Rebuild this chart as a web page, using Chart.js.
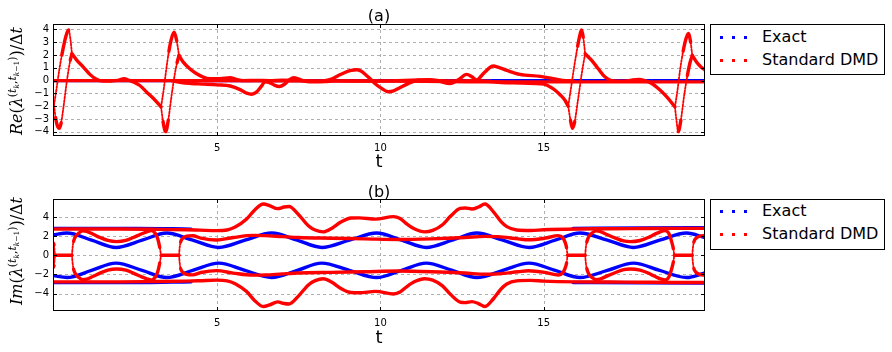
<!DOCTYPE html>
<html><head><meta charset="utf-8">
<script src="https://cdn.jsdelivr.net/npm/chart.js@4.4.1/dist/chart.umd.min.js"></script>
<style>
body{margin:0;background:#fff;}
#wrap{position:relative;width:892px;height:352px;overflow:hidden;font-family:"DejaVu Sans",sans-serif;color:#000}
canvas{position:absolute;left:0}
.lbl{position:absolute;white-space:nowrap;line-height:1;transform:translate(-50%,-50%)}
.ylab{position:absolute;white-space:nowrap;line-height:1;transform:translate(-50%,-50%) rotate(-90deg);font-family:"DejaVu Serif",serif;font-size:16px}
.ylab sup,.ylab sub{font-size:68%;line-height:0}
.leg{position:absolute;left:710px;width:173px;height:49px;border:1px solid #000;background:#fff}
.dot{position:absolute;width:3px;height:3px}
.lt{position:absolute;left:51px;font-size:16px;line-height:1;transform:translateY(-50%);white-space:nowrap}
</style></head>
<body>
<div id="wrap">
<canvas id="ca" width="892" height="176" style="top:0;width:892px;height:176px"></canvas>
<canvas id="cb" width="892" height="176" style="top:175px;width:892px;height:176px"></canvas>
<div class="lbl" style="left:379px;top:16px;font-size:16px">(a)</div>
<div class="lbl" style="left:379px;top:161px;font-size:18px">t</div>
<div class="lbl" style="left:379px;top:192px;font-size:16px">(b)</div>
<div class="lbl" style="left:379px;top:337px;font-size:18px">t</div>
<div class="ylab" style="left:17px;top:81px"><i>Re</i>(<i>λ</i><sup>(<i>t</i><sub><i>k</i></sub>,<i>t</i><sub><i>k</i>−1</sub>)</sup>)/Δ<i>t</i></div>
<div class="ylab" style="left:17px;top:251px"><i>Im</i>(<i>λ</i><sup>(<i>t</i><sub><i>k</i></sub>,<i>t</i><sub><i>k</i>−1</sub>)</sup>)/Δ<i>t</i></div>
<div class="leg" style="top:24px">
  <div class="dot" style="left:9px;top:11px;background:#00f"></div><div class="dot" style="left:21px;top:11px;background:#00f"></div><div class="dot" style="left:33px;top:11px;background:#00f"></div>
  <div class="lt" style="top:12px">Exact</div>
  <div class="dot" style="left:9px;top:34px;background:#f00"></div><div class="dot" style="left:21px;top:34px;background:#f00"></div><div class="dot" style="left:33px;top:34px;background:#f00"></div>
  <div class="lt" style="top:35px">Standard DMD</div>
</div>
<div class="leg" style="top:199px">
  <div class="dot" style="left:9px;top:10px;background:#00f"></div><div class="dot" style="left:21px;top:10px;background:#00f"></div><div class="dot" style="left:33px;top:10px;background:#00f"></div>
  <div class="lt" style="top:11px">Exact</div>
  <div class="dot" style="left:9px;top:33px;background:#f00"></div><div class="dot" style="left:21px;top:33px;background:#f00"></div><div class="dot" style="left:33px;top:33px;background:#f00"></div>
  <div class="lt" style="top:34px">Standard DMD</div>
</div>
</div>
<script>
// ---------- axes / ticks ----------
const xTicks = [5, 10, 15];
const yTicksA = [-4, -3, -2, -1, 0, 1, 2, 3, 4];
const yTicksB = [-4, -2, 0, 2, 4];
const xRange = [-0.03, 19.94];
const yRangeA = [-4.33, 4.43];
const yRangeB = [-5.83, 5.89];

// ---------- panel (a): real parts ----------
const aExact = [[-0.03,0],[5,0],[10,0],[15,0],[19.94,0]];
const aDmdFlat = [[-0.03,0],[4,0],[8,-0.02],[10,-0.04],[12,-0.07],[14,-0.1],[19.94,-0.1]];
const aLoop1Lo = [[0,-1.92],[0.05,-2.9],[0.1,-3.5],[0.16,-3.73],[0.22,-3.3],[0.3,-1.9],[0.38,-0.3],[0.45,0.9],[0.5,1.6],[0.55,2.1]];
const aLoop1Hi = [[0,-1.92],[0.08,-0.6],[0.16,0.8],[0.24,2.0],[0.32,3.0],[0.4,3.75],[0.45,3.97],[0.5,3.3],[0.55,2.1]];
const aRe1 = [[0.55,2.1],[0.69,1.63],[0.9,1.06],[1.1,0.49],[1.3,0.1],[1.5,-0.04],[1.7,-0.03],[1.95,0.02],[2.15,0.15],[2.3,0.02],[2.45,-0.12],[2.63,-0.38],[2.84,-0.9],[3.04,-1.38],[3.28,-2.05]];
const aLoop2Lo = [[3.28,-2.05],[3.34,-3.2],[3.42,-3.99],[3.5,-3.1],[3.6,-1.2],[3.7,0.5],[3.77,1.4],[3.83,1.97]];
const aLoop2Hi = [[3.28,-2.05],[3.36,-0.7],[3.44,0.9],[3.52,2.3],[3.6,3.3],[3.68,3.78],[3.76,3.1],[3.83,1.97]];
const aRe2 = [[3.83,1.97],[3.96,1.45],[4.16,0.93],[4.37,0.54],[4.57,0.28],[4.78,0.15],[5.08,0.15],[5.39,0.23],[5.59,0.1],[5.8,0.0],[6.2,0.02],[6.6,0.0],[7.0,0.03],[7.5,0.0],[8.0,-0.05],[8.3,0.0],[8.5,0.12],[8.7,0.38],[8.91,0.64],[9.1,0.8],[9.27,0.85],[9.4,0.75],[9.52,0.52],[9.7,0.1],[9.83,-0.22],[10.0,-0.55],[10.24,-0.87],[10.4,-0.8],[10.55,-0.61],[10.85,-0.23],[11.16,0.03],[11.5,0.06],[11.8,-0.05],[12.13,-0.23],[12.4,0.1],[12.64,0.49],[12.8,0.3],[12.95,0.05],[13.15,0.55],[13.46,1.14],[13.6,1.05],[13.87,0.8],[14.27,0.49],[14.89,0.33],[15.29,0.15],[15.7,0.0],[15.9,0.0]];
const aRe3 = [[3.6,0.0],[3.9,-0.15],[4.2,-0.22],[4.6,-0.27],[5.0,-0.33],[5.4,-0.42],[5.7,-0.7],[5.9,-0.98],[6.05,-1.06],[6.2,-0.9],[6.35,-0.45],[6.46,-0.1],[6.6,-0.15],[6.75,-0.35],[6.9,-0.46],[7.05,-0.3],[7.2,0.05],[7.35,0.23],[7.5,0.12],[7.7,-0.05],[8.0,-0.1],[8.3,-0.08],[8.6,-0.02],[9.5,-0.03],[10.5,0.0],[11.2,0.05],[11.5,0.08],[11.8,0.0],[12.5,-0.02],[13.0,0.0],[13.3,-0.05],[13.7,-0.15],[14.3,-0.18],[14.89,-0.25],[15.04,-0.3],[15.2,-0.5],[15.35,-0.75],[15.5,-1.1],[15.65,-1.53],[15.75,-2.0]];
const aLoop3Lo = [[15.75,-2.0],[15.82,-3.1],[15.88,-3.73],[15.95,-3.2],[16.05,-1.5],[16.15,0.3],[16.22,1.4],[16.27,2.1]];
const aLoop3Hi = [[15.75,-2.0],[15.84,-0.5],[15.94,1.2],[16.04,2.7],[16.12,3.7],[16.16,3.96],[16.21,3.4],[16.27,2.1]];
const aRe4 = [[16.27,2.1],[16.47,1.58],[16.67,0.93],[16.88,0.28],[17.08,0.0],[17.3,-0.04],[17.6,0.0],[17.9,0.1],[18.1,0.0],[18.31,-0.23],[18.51,-0.62],[18.77,-1.27],[19.02,-2.05]];
const aLoop4Lo = [[19.02,-2.05],[19.07,-3.2],[19.12,-3.99],[19.2,-3.1],[19.3,-1.2],[19.4,0.4],[19.48,1.4],[19.55,1.97]];
const aLoop4Hi = [[19.02,-2.05],[19.1,-0.7],[19.18,0.9],[19.27,2.3],[19.36,3.3],[19.43,3.7],[19.5,3.0],[19.55,1.97]];
const aRe5 = [[19.55,1.97],[19.68,1.45],[19.8,1.1],[19.94,0.83]];

// ---------- panel (b): imaginary parts ----------
const bExactUp = [[-0.03,2.13],[0.4,2.33],[1.15,1.58],[1.9,0.82],[2.7,1.58],[3.45,2.33],[4.25,1.58],[5.05,0.82],[5.85,1.58],[6.67,2.33],[7.45,1.58],[8.2,0.82],[9.05,1.58],[9.88,2.33],[10.65,1.58],[11.4,0.82],[12.2,1.58],[12.95,2.33],[13.75,1.58],[14.55,0.82],[15.35,1.58],[16.11,2.33],[16.95,1.58],[17.75,0.82],[18.55,1.58],[19.38,2.33],[19.94,1.85]];
const bExactLo = [[-0.03,-2.13],[0.4,-2.33],[1.15,-1.58],[1.9,-0.82],[2.7,-1.58],[3.45,-2.33],[4.25,-1.58],[5.05,-0.82],[5.85,-1.58],[6.67,-2.33],[7.45,-1.58],[8.2,-0.82],[9.05,-1.58],[9.88,-2.33],[10.65,-1.58],[11.4,-0.82],[12.2,-1.58],[12.95,-2.33],[13.75,-1.58],[14.55,-0.82],[15.35,-1.58],[16.11,-2.33],[16.95,-1.58],[17.75,-0.82],[18.55,-1.58],[19.38,-2.33],[19.94,-1.85]];
const bExactFlatUp1 = [[-0.03,2.82],[2.5,2.82],[4.2,2.74]];
const bExactFlatLo1 = [[-0.03,-2.86],[2.5,-2.86],[4.2,-2.77]];
const bExactFlatUp2 = [[15.9,2.81],[18,2.86],[19.94,2.88]];
const bExactFlatLo2 = [[15.9,-2.84],[18,-2.88],[19.94,-2.9]];

const bZero1 = [[-0.03,1.3],[0.0,1.1],[0.015,0.6],[0.03,0],[0.55,0]];
const bZero1Lo = [[-0.03,-1.3],[0.0,-1.1],[0.015,-0.6],[0.03,0]];
const bZero2 = [[3.28,0],[3.83,0]];
const bZero3 = [[15.73,0],[16.27,0]];
const bZero4 = [[19.0,0],[19.55,0]];

const bP1UpE1 = [[0.55,0],[0.57,0.8],[0.6,1.45],[0.66,1.95],[0.75,2.3],[0.88,2.55],[1.0,2.5],[1.2,2.2],[1.41,1.86],[1.65,1.55],[1.92,1.43],[2.2,1.55],[2.43,1.86],[2.65,2.2],[2.84,2.46],[2.99,2.6],[3.1,2.3],[3.18,1.7],[3.24,0.81],[3.28,0]];
const bP1LoE1 = [[0.55,0],[0.57,-0.8],[0.6,-1.45],[0.66,-1.95],[0.75,-2.3],[0.88,-2.55],[1.0,-2.5],[1.2,-2.2],[1.41,-1.86],[1.65,-1.55],[1.92,-1.43],[2.2,-1.55],[2.43,-1.86],[2.65,-2.2],[2.84,-2.46],[2.99,-2.6],[3.1,-2.3],[3.18,-1.7],[3.24,-0.81],[3.28,0]];
const bP1UpE2 = [[3.83,0],[3.85,0.8],[3.88,1.4],[3.95,1.8],[4.06,2.0],[4.25,2.05],[4.5,1.8],[4.98,1.6],[5.49,1.86],[6.1,2.08],[6.46,2.06],[7.0,1.95],[7.48,1.86],[8.5,1.79],[9.53,1.72],[10.55,1.65],[11.57,1.72],[12.59,1.86],[13.2,1.98],[13.6,1.95],[14.22,1.72],[14.53,1.62],[15.04,1.79],[15.45,2.06],[15.58,1.85],[15.65,1.4],[15.7,0.8],[15.73,0]];
const bP1LoE2 = [[3.83,0],[3.85,-0.8],[3.88,-1.4],[3.95,-1.8],[4.06,-2.0],[4.25,-2.05],[4.5,-1.8],[4.98,-1.6],[5.49,-1.86],[6.1,-2.08],[6.46,-2.06],[7.0,-1.95],[7.48,-1.86],[8.5,-1.79],[9.53,-1.72],[10.55,-1.65],[11.57,-1.72],[12.59,-1.86],[13.2,-1.98],[13.6,-1.95],[14.22,-1.72],[14.53,-1.62],[15.04,-1.79],[15.45,-2.06],[15.58,-1.85],[15.65,-1.4],[15.7,-0.8],[15.73,0]];
const bP1UpE3 = [[16.27,0],[16.29,0.8],[16.32,1.4],[16.38,1.95],[16.47,2.3],[16.6,2.55],[16.72,2.5],[16.95,2.15],[17.2,1.8],[17.45,1.5],[17.65,1.43],[17.95,1.55],[18.2,1.86],[18.4,2.2],[18.57,2.46],[18.72,2.58],[18.83,2.3],[18.92,1.4],[18.97,0.7],[19.0,0]];
const bP1LoE3 = [[16.27,0],[16.29,-0.8],[16.32,-1.4],[16.38,-1.95],[16.47,-2.3],[16.6,-2.55],[16.72,-2.5],[16.95,-2.15],[17.2,-1.8],[17.45,-1.5],[17.65,-1.43],[17.95,-1.55],[18.2,-1.86],[18.4,-2.2],[18.57,-2.46],[18.72,-2.58],[18.83,-2.3],[18.92,-1.4],[18.97,-0.7],[19.0,0]];
const bP1UpE4 = [[19.55,0],[19.57,0.8],[19.6,1.4],[19.67,1.8],[19.78,2.0],[19.94,2.08]];
const bP1LoE4 = [[19.55,0],[19.57,-0.8],[19.6,-1.4],[19.67,-1.8],[19.78,-2.0],[19.94,-2.08]];
const bP2Up = [[-0.03,2.74],[1,2.75],[2,2.75],[3,2.72],[4.06,2.67],[4.47,2.63],[4.98,2.58],[5.3,2.65],[5.55,2.95],[5.9,3.79],[6.15,4.75],[6.41,5.36],[6.6,5.2],[6.85,4.88],[7.05,5.05],[7.2,5.1],[7.48,4.3],[7.79,3.1],[8.0,2.65],[8.25,2.45],[8.5,2.8],[8.8,3.5],[9.1,3.9],[9.35,3.92],[9.85,3.78],[10.4,4.05],[10.6,3.85],[10.8,3.3],[11.05,2.75],[11.35,2.45],[11.6,2.6],[11.9,3.2],[12.15,4.1],[12.44,4.9],[12.6,4.95],[12.8,4.85],[13.0,5.05],[13.2,5.36],[13.46,4.55],[13.7,3.5],[13.87,3.0],[14.17,2.65],[14.6,2.6],[15.0,2.67],[16,2.75],[17,2.78],[18,2.8],[19,2.82],[19.94,2.82]];
const bP2Lo = [[-0.03,-2.78],[1,-2.78],[2,-2.78],[3,-2.75],[4.06,-2.7],[4.47,-2.66],[4.98,-2.6],[5.3,-2.67],[5.55,-2.97],[5.9,-3.8],[6.15,-4.75],[6.41,-5.36],[6.6,-5.2],[6.85,-4.88],[7.05,-5.05],[7.2,-5.1],[7.48,-4.3],[7.79,-3.1],[8.0,-2.65],[8.25,-2.45],[8.5,-2.8],[8.8,-3.5],[9.1,-3.9],[9.35,-3.92],[9.85,-3.78],[10.4,-4.05],[10.6,-3.85],[10.8,-3.3],[11.05,-2.75],[11.35,-2.45],[11.6,-2.6],[11.9,-3.2],[12.15,-4.1],[12.44,-4.9],[12.6,-4.95],[12.8,-4.85],[13.0,-5.05],[13.2,-5.36],[13.46,-4.55],[13.7,-3.5],[13.87,-3.0],[14.17,-2.68],[14.6,-2.63],[15.0,-2.7],[16,-2.78],[17,-2.8],[18,-2.82],[19,-2.84],[19.94,-2.84]];

// ---------- drawing ----------
const BLUE = '#0000ff', RED = '#ff0000';
function steep(c){const dx=Math.abs(c.p1.x-c.p0.x), dy=Math.abs(c.p1.y-c.p0.y); return dy > 5*dx;}
function ds(data, color, order){
  return {data, borderColor: color, backgroundColor: color, showLine: true, pointRadius: 0,
    borderWidth: 3.4, cubicInterpolationMode: 'monotone', fill: false, order, clip: 0,
    borderCapStyle: 'round', borderJoinStyle: 'round',
    segment: {borderWidth: c => steep(c) ? 1.8 : 3.4, borderDash: c => steep(c) ? [2, 1.5] : []}};
}
function framePlugin(yTicks){
  return {id: 'frame',
    beforeDatasetsDraw(chart){
      const {ctx, chartArea: a, scales: {x, y}} = chart;
      ctx.save(); ctx.strokeStyle = '#b0b0b0'; ctx.lineWidth = 1; ctx.setLineDash([3, 3]);
      ctx.beginPath();
      xTicks.forEach(v => {const p = Math.round(x.getPixelForValue(v)) + 0.5; ctx.moveTo(p, a.top); ctx.lineTo(p, a.bottom);});
      yTicks.forEach(v => {const p = Math.round(y.getPixelForValue(v)) + 0.5; ctx.moveTo(a.left, p); ctx.lineTo(a.right, p);});
      ctx.stroke(); ctx.restore();
    },
    afterDatasetsDraw(chart){
      const {ctx, chartArea: a, scales: {x, y}} = chart;
      ctx.save(); ctx.strokeStyle = '#000'; ctx.lineWidth = 1; ctx.setLineDash([]);
      ctx.beginPath();
      xTicks.forEach(v => {const p = Math.round(x.getPixelForValue(v)) + 0.5;
        ctx.moveTo(p, a.bottom); ctx.lineTo(p, a.bottom - 4); ctx.moveTo(p, a.top); ctx.lineTo(p, a.top + 4);});
      yTicks.forEach(v => {const p = Math.round(y.getPixelForValue(v)) + 0.5;
        ctx.moveTo(a.left, p); ctx.lineTo(a.left + 4, p); ctx.moveTo(a.right, p); ctx.lineTo(a.right - 4, p);});
      ctx.stroke();
      ctx.strokeRect(a.left + 0.5, a.top + 0.5, a.right - a.left - 1, a.bottom - a.top - 1);
      ctx.restore();
    }};
}
function makeChart(id, exactSets, dmdSets, yRange, yTicks){
  const datasets = exactSets.map(d => ds(d, BLUE, 1)).concat(dmdSets.map(d => ds(d, RED, 0)));
  return new Chart(document.getElementById(id), {
    type: 'scatter',
    data: {datasets},
    options: {
      responsive: false, animation: false, devicePixelRatio: 1, events: [],
      layout: {padding: {left: 0, top: 24, right: 187, bottom: 0}},
      plugins: {legend: {display: false}, tooltip: {enabled: false}, title: {display: false}},
      scales: {
        x: {type: 'linear', min: xRange[0], max: xRange[1],
          grid: {display: false, drawTicks: false}, border: {display: false},
          afterBuildTicks: s => { s.ticks = xTicks.map(v => ({value: v})); },
          afterFit: s => { s.height = 40; },
          ticks: {padding: 6, maxRotation: 0, autoSkip: false, color: '#000', font: {family: 'DejaVu Sans', size: 10},
            callback: v => String(v)}},
        y: {type: 'linear', min: yRange[0], max: yRange[1],
          grid: {display: false, drawTicks: false}, border: {display: false},
          afterBuildTicks: s => { s.ticks = yTicks.map(v => ({value: v})); },
          afterFit: s => { s.width = 53; },
          ticks: {padding: 4, autoSkip: false, color: '#000', font: {family: 'DejaVu Sans', size: 10},
            callback: v => (v < 0 ? '\u2212' : '') + Math.abs(v)}}
      }
    },
    plugins: [framePlugin(yTicks)]
  });
}
makeChart('ca', [aExact],
  [aDmdFlat, aLoop1Lo, aLoop1Hi, aRe1, aLoop2Lo, aLoop2Hi, aRe2, aRe3, aLoop3Lo, aLoop3Hi, aRe4, aLoop4Lo, aLoop4Hi, aRe5],
  yRangeA, yTicksA);
makeChart('cb', [bExactUp, bExactLo, bExactFlatUp1, bExactFlatLo1, bExactFlatUp2, bExactFlatLo2],
  [bZero1, bZero1Lo, bZero2, bZero3, bZero4, bP1UpE1, bP1LoE1, bP1UpE2, bP1LoE2, bP1UpE3, bP1LoE3, bP1UpE4, bP1LoE4, bP2Up, bP2Lo],
  yRangeB, yTicksB);
</script>
</body></html>
